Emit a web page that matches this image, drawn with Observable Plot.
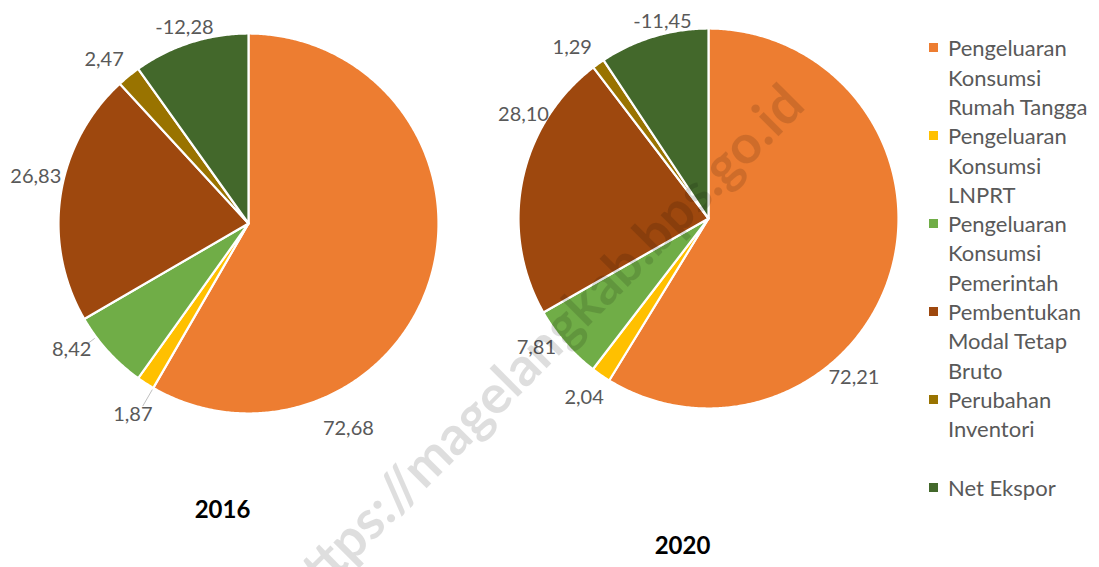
<!DOCTYPE html>
<html><head><meta charset="utf-8">
<script src="https://cdn.jsdelivr.net/npm/d3@7"></script>
<script src="https://cdn.jsdelivr.net/npm/@observablehq/plot@0.6"></script>
<style>
html,body{margin:0;padding:0;background:#fff;}
#wrap{position:relative;width:1099px;height:567px;overflow:hidden;font-family:Lato,sans-serif;background:#fff;}
.pie{position:absolute;top:0;}
</style></head>
<body><div id="wrap"></div>
<script>
// ---- data ----
const categories = [
  "Pengeluaran Konsumsi Rumah Tangga",
  "Pengeluaran Konsumsi LNPRT",
  "Pengeluaran Konsumsi Pemerintah",
  "Pembentukan Modal Tetap Bruto",
  "Perubahan Inventori",
  "Net Ekspor"
];
const colors = ["#ED7D31", "#FFC000", "#70AD47", "#9E480E", "#997300", "#43682B"];
const years = ["2016", "2020"];
const values2016 = [72.68, 1.87, 8.42, 26.83, 2.47, -12.28];
const values2020 = [72.21, 2.04, 7.81, 28.10, 1.29, -11.45];
const watermark = "https://magelangkab.bps.go.id";

// ---- layout / style ----
const FONT = "Lato";
const LABEL_SIZE = 20, LEGEND_SIZE = 22, TITLE_SIZE = 24;
const R = 190; // pixels per unit radius
const pieLayouts = [
  {year: years[0], values: values2016, left: 0, mt: 33, mb: 154, titleDx: -26, titleDy: 104,
   labelAt: [0.74, 0, 0.73, 0.56, 0.34, 0.53], labelGap: [25, 21, 11, 3, 14, 4],
   leader: [false, true, true, false, false, false]},
  {year: years[1], values: values2020, left: 460, mt: 28, mb: 159, titleDx: -26, titleDy: 145,
   labelAt: [0.66, 0.35, 0.63, 0.74, 0, 0.64], labelGap: [9, 15, 9, 1, 15, 1],
   leader: [false, false, false, false, false, false]}
];

const ctx = document.createElement("canvas").getContext("2d");
function textWidth(s, size, weight = "normal") {
  ctx.font = `${weight} ${size}px ${FONT}`;
  return ctx.measureText(s).width;
}
const fmt = v => d3.format(".2f")(v).replace(".", ",").replace("\u2212", "-");

const wrap = document.getElementById("wrap");

pieLayouts.forEach(L => {
  const rows = L.values.map((v, i) => ({cat: categories[i], v}));
  const arcs = d3.pie().sort(null).value(d => Math.abs(d.v))(rows);
  const pts = [];
  const labels = [];
  const leaders = [];
  arcs.forEach((a, i) => {
    const cat = a.data.cat;
    const span = a.endAngle - a.startAngle;
    const n = Math.max(2, Math.ceil(span / (Math.PI / 360)));
    pts.push({cat, x: 0, y: 0});
    for (let k = 0; k <= n; k++) {
      const t = a.startAngle + span * k / n;
      pts.push({cat, x: Math.sin(t), y: Math.cos(t)});
    }
    pts.push({cat, x: 0, y: 0});
    const ang = a.startAngle + L.labelAt[i] * span;
    const s = Math.sin(ang), c = Math.cos(ang);
    const text = fmt(a.data.v);
    const w = textWidth(text, LABEL_SIZE), h = 20;
    const rr = 1 + L.labelGap[i] / R;
    labels.push({text, x: rr * s + (w / 2) / R * s, y: rr * c + (h / 2) / R * c});
    if (L.leader[i]) leaders.push({x1: rr * s, y1: rr * c, x2: 1.01 * s, y2: 1.01 * c});
  });

  const chart = Plot.plot({
    width: 460, height: 567,
    marginLeft: 58, marginRight: 22, marginTop: L.mt, marginBottom: L.mb,
    x: {domain: [-1, 1], axis: null},
    y: {domain: [-1, 1], axis: null},
    color: {domain: categories, range: colors},
    style: {fontFamily: FONT, background: "transparent", overflow: "visible"},
    marks: [
      Plot.line(pts, {x: "x", y: "y", z: "cat", fill: "cat", stroke: "#ffffff", strokeWidth: 2.2, strokeLinejoin: "round"}),
      Plot.link(leaders, {x1: "x1", y1: "y1", x2: "x2", y2: "y2", stroke: "#bfbfbf", strokeWidth: 1}),
      Plot.text(labels, {x: "x", y: "y", text: "text", fontSize: LABEL_SIZE, fill: "#595959"}),
      Plot.text([L.year], {text: d => d, frameAnchor: "bottom", dx: L.titleDx, dy: L.titleDy,
        fontSize: TITLE_SIZE, fontWeight: "bold", fill: "#000"})
    ]
  });
  chart.classList.add("pie");
  chart.style.left = L.left + "px";
  wrap.appendChild(chart);
});

// ---- legend ----
const LINE = 29.3;
function wrapWords(str, maxW) {
  const words = str.split(" ");
  const lines = [];
  let cur = "";
  words.forEach(wd => {
    const t = cur ? cur + " " + wd : wd;
    if (cur && textWidth(t, LEGEND_SIZE) > maxW) { lines.push(cur); cur = wd; } else cur = t;
  });
  if (cur) lines.push(cur);
  return lines;
}
const legend = document.createElement("div");
legend.style.cssText = `position:absolute;left:929px;top:${48 - LINE / 2}px;font:${LEGEND_SIZE}px ${FONT};color:#595959;line-height:${LINE}px;`;
categories.forEach((cat, i) => {
  const item = document.createElement("div");
  item.style.cssText = `position:relative;height:${LINE * 3}px;white-space:nowrap;`;
  const sw = document.createElement("span");
  sw.style.cssText = `position:absolute;left:0;top:${(LINE - 9) / 2}px;width:9px;height:9px;background:${colors[i]};`;
  const tx = document.createElement("div");
  tx.style.cssText = "margin-left:19px;";
  tx.innerHTML = wrapWords(cat, 150).join("<br>");
  item.appendChild(sw);
  item.appendChild(tx);
  legend.appendChild(item);
});
wrap.appendChild(legend);

// ---- watermark ----
const wmSize = 44 * 714 / textWidth(watermark, 44, "bold");
const wm = document.createElement("div");
wm.textContent = watermark;
wm.style.cssText = `position:absolute;left:540px;top:345px;transform:translate(-50%,-50%) rotate(-45deg);font:bold ${wmSize}px ${FONT};color:rgba(0,0,0,0.13);white-space:nowrap;pointer-events:none;`;
wrap.appendChild(wm);
</script>
</body></html>
